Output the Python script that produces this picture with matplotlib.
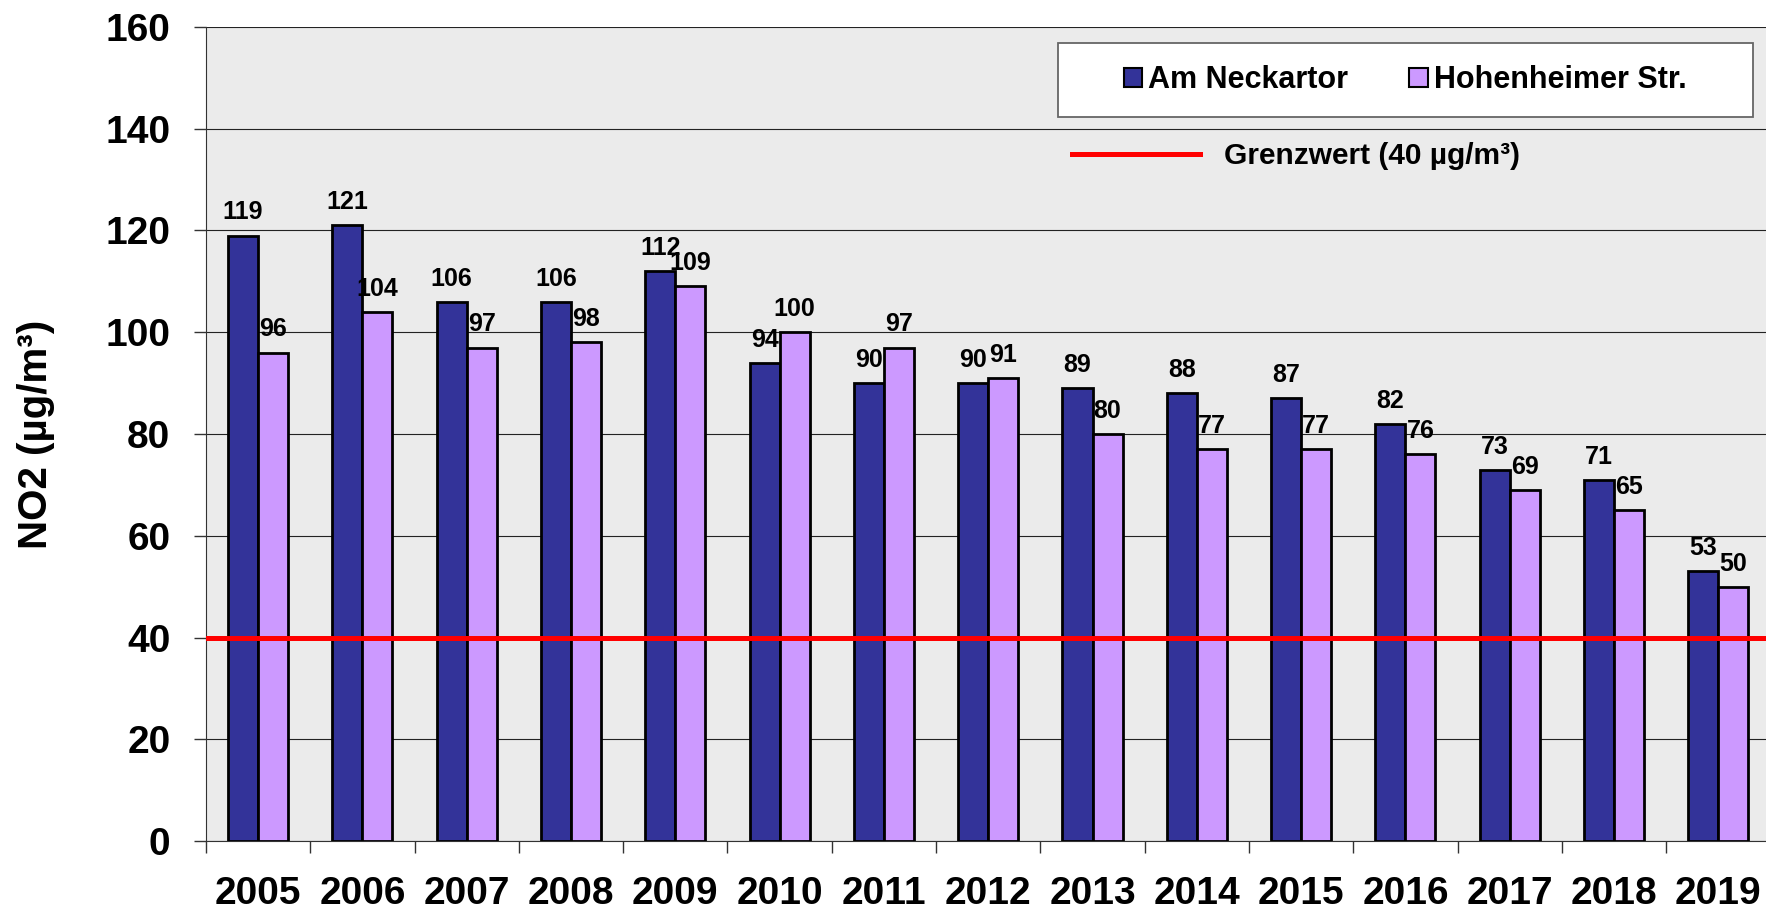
import numpy as np
import matplotlib
matplotlib.use("Agg")
import matplotlib.pyplot as plt
from matplotlib.lines import Line2D
from matplotlib.patches import Patch, Rectangle

plt.rcParams['font.family'] = ['Liberation Sans', 'DejaVu Sans']
plt.rcParams['font.weight'] = 'bold'

# data
years = ['2005', '2006', '2007', '2008', '2009', '2010', '2011', '2012',
         '2013', '2014', '2015', '2016', '2017', '2018', '2019']
neckartor = [119, 121, 106, 106, 112, 94, 90, 90, 89, 88, 87, 82, 73, 71, 53]
hohenheimer = [96, 104, 97, 98, 109, 100, 97, 91, 80, 77, 77, 76, 69, 65, 50]
grenzwert = 40
yticks = [0, 20, 40, 60, 80, 100, 120, 140, 160]

fig = plt.figure(figsize=(17.66, 9.09), dpi=100)
ax = fig.add_axes([0.1166, 0.0748, 0.8834, 0.8955])
ax.set_facecolor('#EBEBEB')

x = np.arange(len(years))
w = 0.288

b1 = ax.bar(x - w / 2, neckartor, w, color='#333399', edgecolor='black',
            linewidth=2, label='Am Neckartor', zorder=3)
b2 = ax.bar(x + w / 2, hohenheimer, w, color='#CC99FF', edgecolor='black',
            linewidth=2, label='Hohenheimer Str.', zorder=3)

ax.bar_label(b1, padding=8, fontsize=18, fontweight='bold', zorder=5)
ax.bar_label(b2, padding=8, fontsize=18, fontweight='bold', zorder=5)

# Grenzwert
ax.axhline(grenzwert, color='#FF0000', linewidth=3.6, zorder=4)

ax.set_xlim(-0.5, 14.457)
ax.set_ylim(0, 160)
ax.set_yticks(yticks)
ax.set_yticklabels([str(v) for v in yticks], fontsize=28, fontweight='bold')
ax.yaxis.grid(True, color='#222222', linewidth=0.8, zorder=0)
ax.set_axisbelow(True)

ax.set_xticks(x)
ax.set_xticklabels(years, fontsize=28, fontweight='bold')
ax.tick_params(axis='x', which='major', length=0, pad=25)
ax.set_xticks(np.arange(len(years)) - 0.5, minor=True)
ax.tick_params(axis='x', which='minor', length=8.5, width=1, color='#333333')
ax.tick_params(axis='y', length=8.5, width=1, color='#333333', pad=17)

for s in ['top', 'right']:
    ax.spines[s].set_visible(False)
ax.spines['left'].set_color('#333333')
ax.spines['bottom'].set_color('#333333')

ax.set_ylabel('NO2 (µg/m³)', fontsize=29, fontweight='bold')
ax.yaxis.set_label_coords(-0.097, 0.5)

# legend box
bx, by, bw, bh = 0.546, 0.8894, 0.4455, 0.0909
box = Rectangle((bx, by), bw, bh, transform=ax.transAxes,
                facecolor='white', edgecolor='#666666', linewidth=1.3, zorder=6)
ax.add_patch(box)

leg1 = ax.legend(handles=[Patch(facecolor='#333399', edgecolor='black', linewidth=1.5),
                          Patch(facecolor='#CC99FF', edgecolor='black', linewidth=1.5)],
                 labels=['Am Neckartor', 'Hohenheimer Str.'],
                 loc='center', bbox_to_anchor=(bx + bw / 2, by + bh / 2),
                 ncol=2, borderaxespad=0, borderpad=0, frameon=False,
                 prop={'size': 22, 'weight': 'bold'},
                 handlelength=0.6, handleheight=0.6, handletextpad=0.2,
                 columnspacing=2.0)
leg1.set_zorder(7)
ax.add_artist(leg1)

leg2 = ax.legend(handles=[Line2D([], [], color='#FF0000', linewidth=3.6)],
                 labels=['Grenzwert (40 µg/m³)'],
                 loc='center left', bbox_to_anchor=(0.555, 0.8415),
                 frameon=False, borderpad=0, borderaxespad=0,
                 prop={'size': 21.5, 'weight': 'bold'},
                 handlelength=4.3, handletextpad=0.8)
leg2.set_zorder(7)

fig.savefig('out.png', dpi=100)
